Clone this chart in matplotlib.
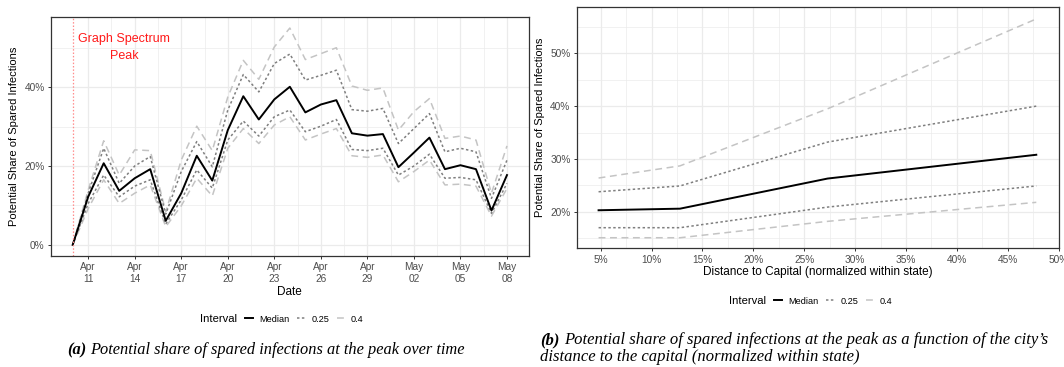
import matplotlib
matplotlib.use("Agg")
import matplotlib.pyplot as plt
from matplotlib.lines import Line2D
from matplotlib.ticker import FuncFormatter, MultipleLocator
import numpy as np
import pandas as pd

plt.rcParams['font.family'] = ['Liberation Sans', 'DejaVu Sans']

# --- spared infections over time (share, %) ---
dates = pd.date_range('2020-04-10', '2020-05-08', freq='D')
median_t = [0.0, 12.2, 20.7, 13.7, 16.9, 19.2, 6.1, 13.1, 22.6, 16.3, 29.1, 37.7, 31.8, 36.9, 40.1,
            33.6, 35.6, 36.7, 28.3, 27.7, 28.1, 19.7, 23.4, 27.2, 19.2, 20.2, 19.2, 8.7, 17.7]
q25_hi_t = [0.0, 13.1, 24.5, 15.6, 20.0, 22.4, 7.8, 18.6, 26.2, 19.8, 34.2, 43.2, 38.8, 46.0, 48.4,
            41.8, 43.0, 44.3, 34.3, 33.9, 34.6, 25.7, 29.5, 33.3, 23.6, 24.5, 23.6, 11.8, 21.5]
q25_lo_t = [0.0, 10.5, 17.7, 12.2, 14.9, 16.5, 5.3, 11.4, 19.0, 14.4, 26.6, 31.4, 27.6, 32.5, 34.2,
            28.7, 30.1, 31.8, 24.2, 23.9, 24.5, 17.7, 20.0, 23.0, 16.9, 17.1, 16.5, 8.0, 15.6]
q40_hi_t = [0.0, 13.9, 26.4, 17.7, 24.1, 23.9, 8.4, 21.5, 30.1, 23.9, 37.5, 46.8, 42.0, 50.2, 55.0,
            47.0, 48.5, 50.0, 40.3, 39.2, 39.8, 29.1, 33.8, 37.1, 27.0, 27.6, 26.6, 13.1, 25.1]
q40_lo_t = [0.0, 9.2, 16.5, 10.5, 13.1, 15.2, 4.6, 9.9, 16.9, 12.4, 24.5, 29.5, 25.7, 30.4, 32.5,
            26.6, 28.1, 29.5, 22.6, 22.2, 22.8, 16.0, 18.6, 21.5, 15.2, 15.4, 14.9, 7.3, 14.3]
spectrum_peak = pd.Timestamp('2020-04-10')
date_ticks = pd.date_range('2020-04-11', '2020-05-08', freq='3D')
date_labels = [d.strftime('%b\n%d') for d in date_ticks]

# --- spared infections vs distance to capital (%) ---
distance = [4.8, 12.8, 27.3, 47.8]
median_d = [20.3, 20.6, 26.3, 30.8]
q25_hi_d = [23.8, 24.9, 33.2, 40.0]
q25_lo_d = [17.0, 17.0, 20.9, 24.9]
q40_hi_d = [26.4, 28.7, 39.5, 56.5]
q40_lo_d = [15.1, 15.1, 18.2, 21.8]

GRID = '#ebebeb'
TICK = '#4d4d4d'
BORDER = '#333333'
DOT = '#7f7f7f'
DASH = '#c4c4c4'
dot_style = (0, (1.6, 1.6))
dash_style = (0, (4.5, 3))

pct = FuncFormatter(lambda v, _: f'{v:.0f}%')

fig = plt.figure(figsize=(10.64, 3.67), dpi=100)


def style_axes(ax):
    ax.set_facecolor('white')
    ax.grid(True, which='major', color=GRID, lw=0.9)
    ax.grid(True, which='minor', color=GRID, lw=0.5)
    ax.set_axisbelow(True)
    for s in ax.spines.values():
        s.set_color(BORDER)
        s.set_linewidth(0.9)
    ax.tick_params(which='major', length=2.5, width=0.7, color=BORDER,
                   labelcolor=TICK, labelsize=7.3, pad=2)
    ax.tick_params(which='minor', length=0)


def draw_bands(ax, x, med, lo25, hi25, lo40, hi40):
    ax.plot(x, hi40, color=DASH, lw=1.1, ls=dash_style)
    ax.plot(x, lo40, color=DASH, lw=1.1, ls=dash_style)
    ax.plot(x, hi25, color=DOT, lw=1.1, ls=dot_style)
    ax.plot(x, lo25, color=DOT, lw=1.1, ls=dot_style)
    ax.plot(x, med, color='black', lw=1.4)


def add_legend(x, y):
    fig.text(x, y, 'Interval', fontsize=8.1, ha='left', va='center')
    handles = [Line2D([], [], color='black', lw=1.4),
               Line2D([], [], color=DOT, lw=1.1, ls=dot_style),
               Line2D([], [], color=DASH, lw=1.1, ls=dash_style)]
    fig.legend(handles, ['Median', '0.25', '0.4'], loc='center left',
               bbox_to_anchor=(x + 0.0425, y), ncol=3, frameon=False, fontsize=6.6,
               handlelength=0.9, handletextpad=0.6, columnspacing=0.9, borderpad=0,
               borderaxespad=0)


def add_caption(x, y, tag, lines, size=12):
    t = fig.text(x, y, tag, fontsize=size, family='Liberation Serif', style='italic',
                 weight='bold', ha='left', va='center')
    fig.canvas.draw()
    bb = t.get_window_extent().transformed(fig.transFigure.inverted())
    fig.text(bb.x1 + 0.004, y, lines[0], fontsize=size, family='Liberation Serif',
             style='italic', ha='left', va='center')
    for i, line in enumerate(lines[1:], 1):
        fig.text(x, y - i * 0.046, line, fontsize=size, family='Liberation Serif',
                 style='italic', ha='left', va='center')


# ---------- left panel: over time ----------
ax1 = fig.add_axes([0.0479, 0.3033, 0.449, 0.6504])
style_axes(ax1)
draw_bands(ax1, dates, median_t, q25_lo_t, q25_hi_t, q40_lo_t, q40_hi_t)
ax1.axvline(spectrum_peak, color='#ff8c8c', lw=0.9, ls=(0, (1.2, 1.5)))
ax1.text(spectrum_peak + pd.Timedelta(days=3.3), 50, 'Graph Spectrum\nPeak', color='#ff1a1a',
         fontsize=9, ha='center', va='center', linespacing=1.55)
ax1.set_xlim(dates[0] - pd.Timedelta(days=1.4), dates[-1] + pd.Timedelta(days=1.4))
ax1.set_ylim(-2.75, 57.8)
ax1.set_xticks(date_ticks)
ax1.set_xticklabels(date_labels, linespacing=1.2)
ax1.set_xticks(date_ticks[:-1] + pd.Timedelta(hours=36), minor=True)
ax1.yaxis.set_major_locator(MultipleLocator(20))
ax1.yaxis.set_minor_locator(MultipleLocator(10))
ax1.yaxis.set_major_formatter(pct)
ax1.set_xlabel('Date', fontsize=8.5, labelpad=1.5)
ax1.set_ylabel('Potential Share of Spared Infections', fontsize=8.0, labelpad=4)

# ---------- right panel: distance to capital ----------
ax2 = fig.add_axes([0.542, 0.3234, 0.453, 0.6567])
style_axes(ax2)
draw_bands(ax2, distance, median_d, q25_lo_d, q25_hi_d, q40_lo_d, q40_hi_d)
ax2.set_xlim(2.65, 50.0)
ax2.set_ylim(13.1, 58.7)
ax2.xaxis.set_major_locator(MultipleLocator(5))
ax2.xaxis.set_minor_locator(MultipleLocator(2.5))
ax2.yaxis.set_major_locator(MultipleLocator(10))
ax2.yaxis.set_minor_locator(MultipleLocator(5))
ax2.xaxis.set_major_formatter(pct)
ax2.yaxis.set_major_formatter(pct)
ax2.set_xticks([5, 10, 15, 20, 25, 30, 35, 40, 45, 50])
ax2.set_xlabel('Distance to Capital (normalized within state)', fontsize=8.5, labelpad=1)
ax2.set_ylabel('Potential Share of Spared Infections', fontsize=8.0, labelpad=4)

add_legend(200 / 1064, 1 - 319 / 367)
add_legend(729 / 1064, 1 - 301 / 367)

add_caption(67 / 1064, 1 - 350 / 367, '(a)',
            ['Potential share of spared infections at the peak over time'], size=11.8)
add_caption(540 / 1064, 1 - 340 / 367, '(b)',
            ['Potential share of spared infections at the peak as a function of the city\u2019s',
             'distance to the capital (normalized within state)'])

fig.savefig('out.png', dpi=100)
